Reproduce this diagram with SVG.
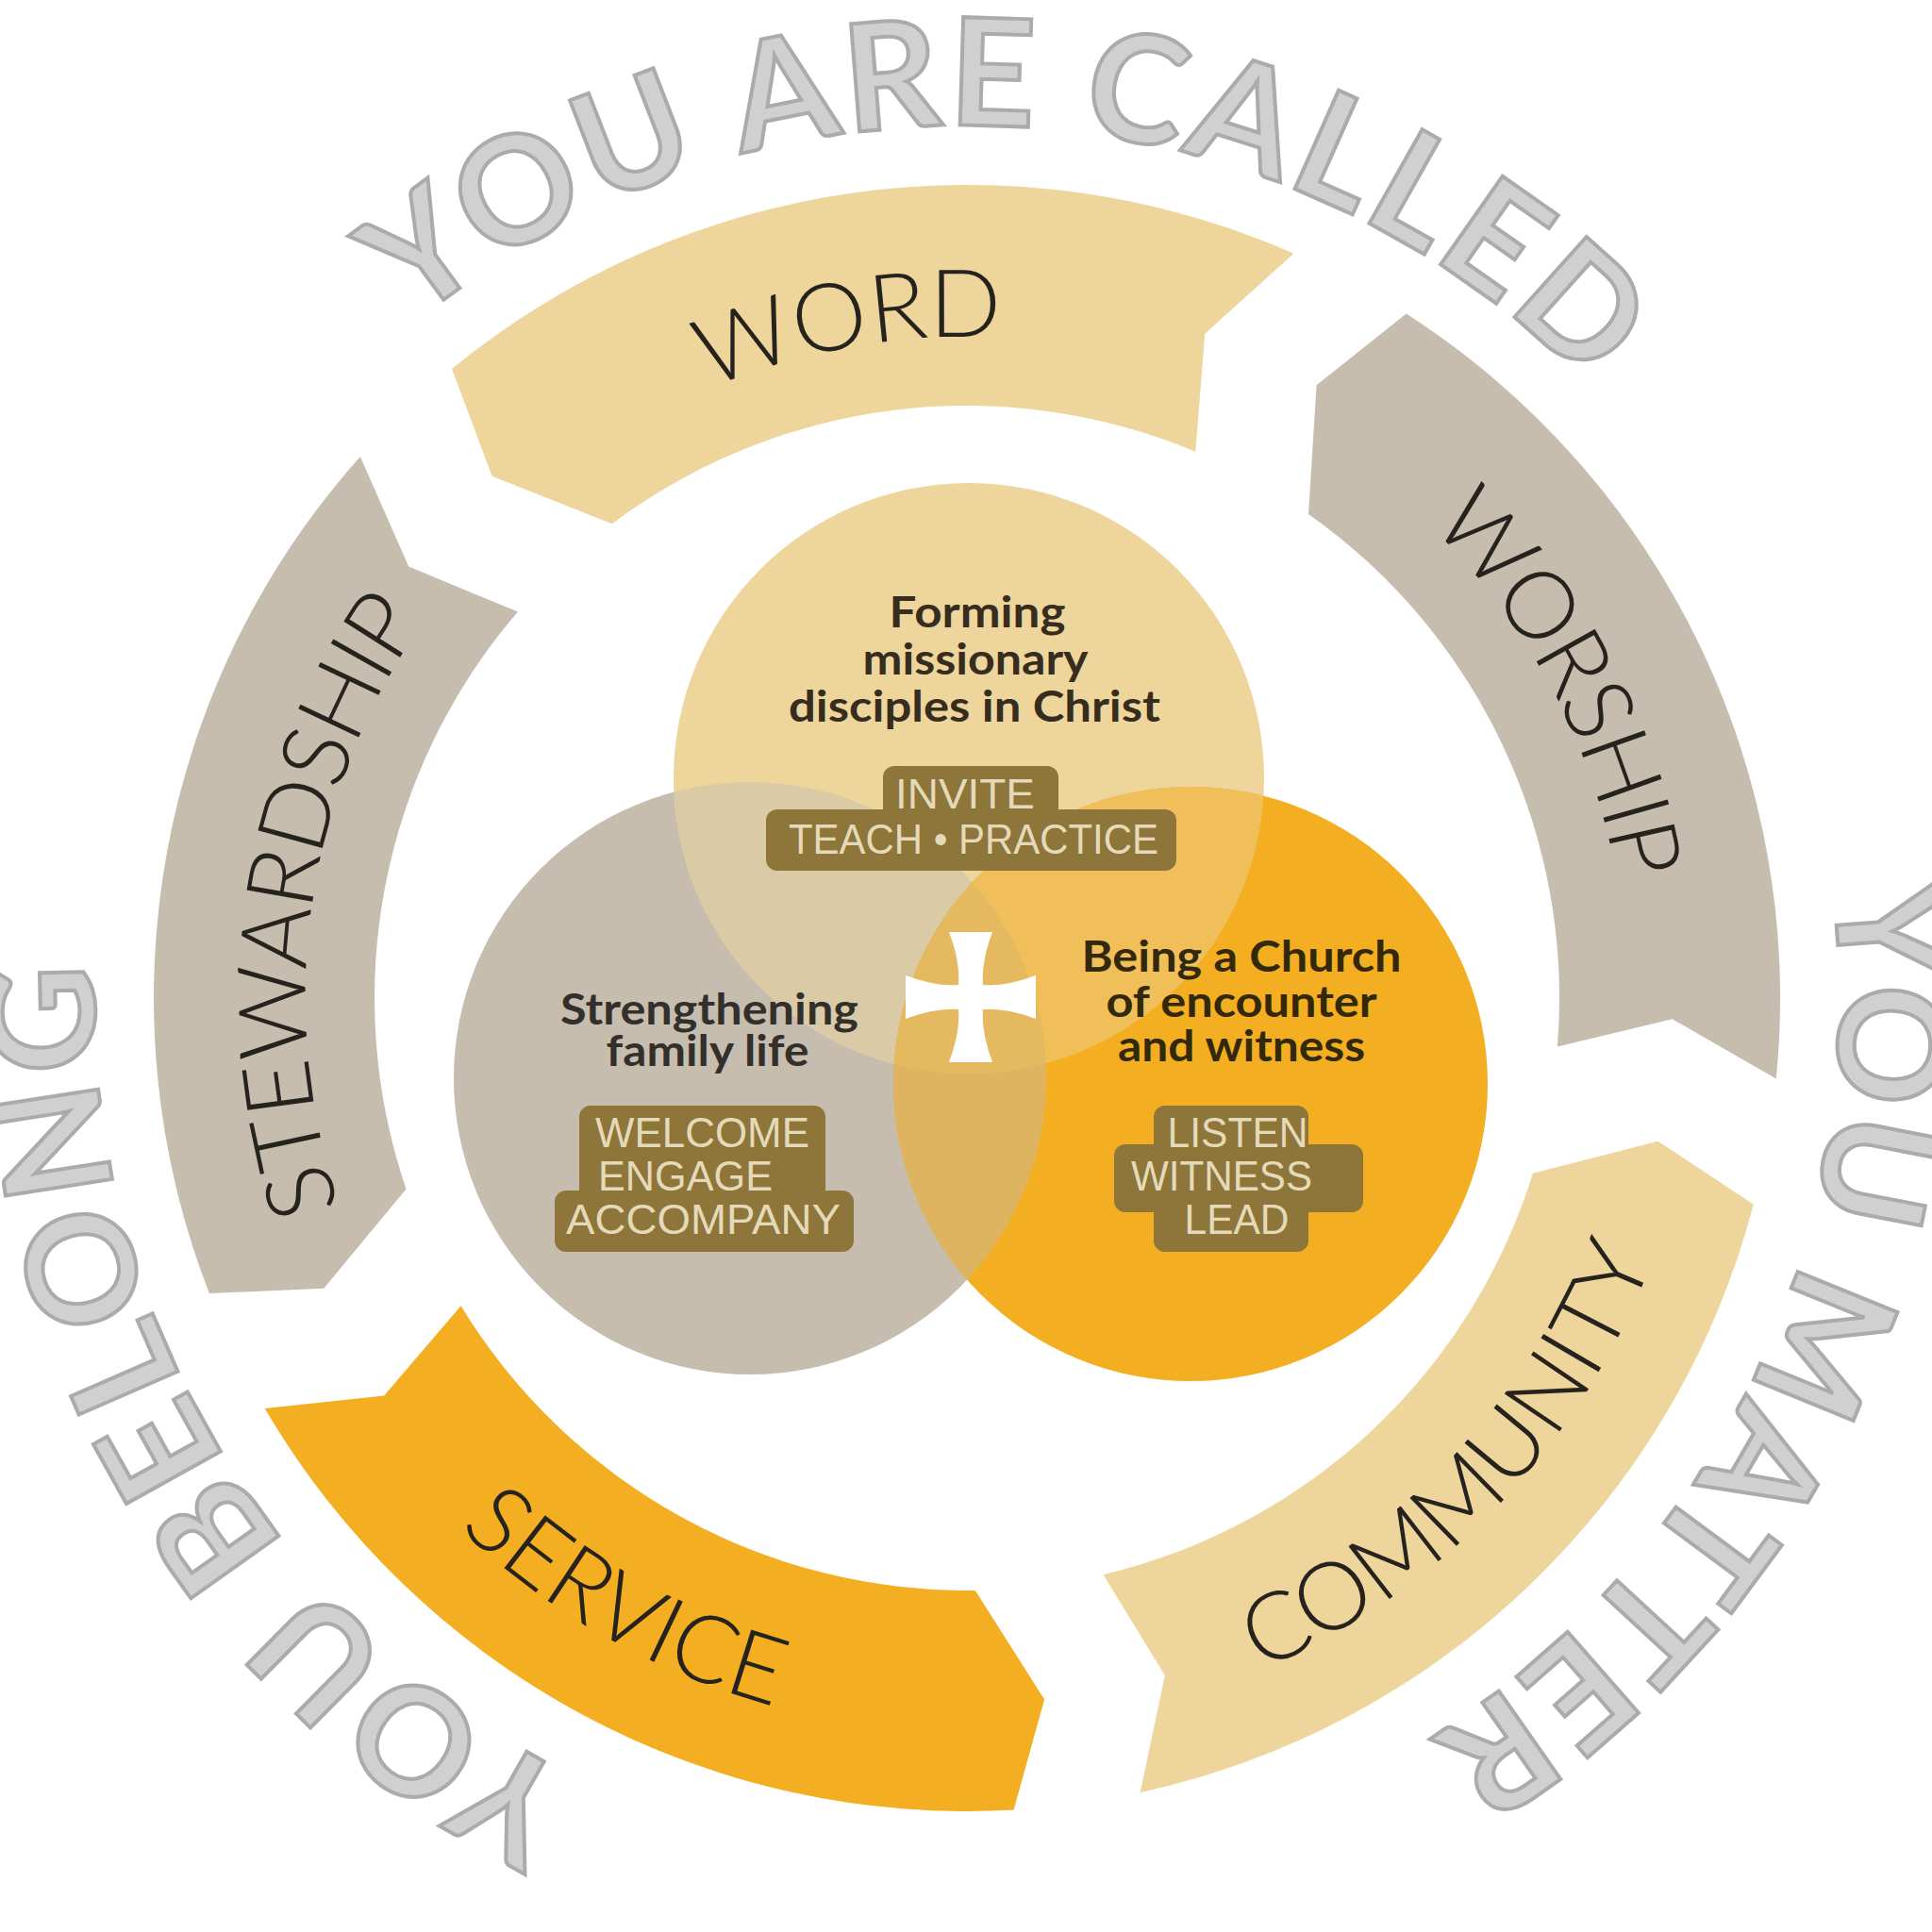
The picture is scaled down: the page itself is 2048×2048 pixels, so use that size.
<svg xmlns="http://www.w3.org/2000/svg" xmlns:xlink="http://www.w3.org/1999/xlink" width="2048" height="2048" viewBox="0 0 2048 2048">
<style>
.band-tan{fill:#EED59C}
.band-gray{fill:#C6BDAF}
.band-orange{fill:#F4AE21}
.band-label{font-family:Lato,"Open Sans","DejaVu Sans",sans-serif;font-weight:300;font-size:100px;fill:#26231E}
.outer{font-family:Lato,"Open Sans","DejaVu Sans",sans-serif;font-weight:700;font-size:158px;letter-spacing:5px;fill:#D0D0D0;stroke:#ABABAB;stroke-width:4}
.ctext{font-family:Lato,"Open Sans","DejaVu Sans",sans-serif;font-weight:700;font-size:45px;text-anchor:middle}
.plaque{fill:#8E7539}
.ptext{font-family:"Liberation Sans","DejaVu Sans",sans-serif;font-size:44px;fill:#E4DABA}
</style>
<defs>
<path id="cw701" d="M1025,1759 A701,701 0 0 1 1025,357 A701,701 0 0 1 1025,1759"/>
<path id="ccw778" d="M1025,280 A778,778 0 0 0 1025,1836 A778,778 0 0 0 1025,280"/>
<path id="cw925" d="M1025,1983 A925,925 0 0 1 1025,133 A925,925 0 0 1 1025,1983"/>
<clipPath id="cTop"><circle cx="1027" cy="825" r="313"/></clipPath>
<clipPath id="cLeft"><circle cx="795" cy="1143" r="314"/></clipPath>
</defs>
<rect width="2048" height="2048" fill="#FFFFFF"/>

<g id="outer-text">
<text class="outer" transform="rotate(3.2 1025 1058)"><textPath xlink:href="#cw925" href="#cw925" startOffset="50%" text-anchor="middle">YOU ARE CALLED</textPath></text>
<text class="outer" transform="rotate(115.5 1025 1058)"><textPath xlink:href="#cw925" href="#cw925" startOffset="50%" text-anchor="middle">YOU MATTER</textPath></text>
<text class="outer" transform="rotate(239.5 1025 1058)"><textPath xlink:href="#cw925" href="#cw925" startOffset="50%" text-anchor="middle">YOU BELONG</textPath></text>
</g>

<g id="node-word">
<path class="band-tan" d="M479.0,391.0 A862,862 0 0 1 1371.4,268.7 L1277.2,353.8 L1267.3,478.7 A628,628 0 0 0 648.8,555.2 L521.6,504.8 Z"/>
<text class="band-label" transform="rotate(-10 1025 1058)"><textPath xlink:href="#cw701" href="#cw701" startOffset="50%" text-anchor="middle">WORD</textPath></text>
</g>
<g id="node-worship">
<path class="band-gray" d="M1490.7,332.6 A862,862 0 0 1 1882.8,1143.6 L1772.7,1080.2 L1650.9,1109.5 A628,628 0 0 0 1387.0,544.9 L1395.6,408.3 Z"/>
<text class="band-label" style="letter-spacing:-3px" transform="rotate(62 1025 1058)"><textPath xlink:href="#cw701" href="#cw701" startOffset="50%" text-anchor="middle">WORSHIP</textPath></text>
</g>
<g id="node-community">
<path class="band-tan" d="M1858.8,1276.7 A862,862 0 0 1 1208.6,1900.2 L1234.9,1775.9 L1169.5,1669.2 A628,628 0 0 0 1624.9,1243.7 L1757.5,1209.7 Z"/>
<text class="band-label" transform="rotate(-46.4 1025 1058)"><textPath xlink:href="#ccw778" href="#ccw778" startOffset="50%" text-anchor="middle">COMMUNITY</textPath></text>
</g>
<g id="node-service">
<path class="band-orange" d="M1074.6,1918.6 A862,862 0 0 1 280.7,1492.9 L407.1,1479.5 L488.6,1384.3 A628,628 0 0 0 1033.8,1685.9 L1107.1,1801.5 Z"/>
<text class="band-label" transform="rotate(29.5 1025 1058)"><textPath xlink:href="#ccw778" href="#ccw778" startOffset="50%" text-anchor="middle">SERVICE</textPath></text>
</g>
<g id="node-stewardship">
<path class="band-gray" d="M221.9,1371.1 A862,862 0 0 1 381.9,484.0 L433.2,600.6 L548.9,648.5 A628,628 0 0 0 430.5,1260.4 L343.3,1365.8 Z"/>
<text class="band-label" style="letter-spacing:-3px" transform="rotate(278.1 1025 1058)"><textPath xlink:href="#cw701" href="#cw701" startOffset="50%" text-anchor="middle">STEWARDSHIP</textPath></text>
</g>

<g id="venn-fills">
<circle cx="795" cy="1143" r="314" fill="#C6BDAF"/>
<circle cx="1027" cy="825" r="313" fill="#EED59C"/>
<circle cx="1027" cy="825" r="313" fill="#DACAA6" clip-path="url(#cLeft)"/>
<circle cx="1262" cy="1149" r="315" fill="#F4AE21"/>
<circle cx="1262" cy="1149" r="315" fill="#F0BF5A" clip-path="url(#cTop)"/>
<circle cx="1262" cy="1149" r="315" fill="#DFB460" clip-path="url(#cLeft)"/>
<g clip-path="url(#cLeft)"><circle cx="1262" cy="1149" r="315" fill="#E4B95F" clip-path="url(#cTop)"/></g>
</g>

<g id="node-forming">
<text class="ctext" fill="#372D1E"><tspan x="1036" y="665" textLength="187" lengthAdjust="spacingAndGlyphs">Forming</tspan><tspan x="1034" y="715" textLength="239" lengthAdjust="spacingAndGlyphs">missionary</tspan><tspan x="1033" y="765" textLength="394" lengthAdjust="spacingAndGlyphs">disciples in Christ</tspan></text>
<rect class="plaque" x="936" y="812" width="186" height="60" rx="12"/>
<rect class="plaque" x="812" y="858" width="435" height="65" rx="12"/>
<text class="ptext" x="1023" y="857" text-anchor="middle" textLength="148" lengthAdjust="spacingAndGlyphs">INVITE</text>
<text class="ptext" x="1032" y="905" text-anchor="middle" textLength="392" lengthAdjust="spacingAndGlyphs">TEACH • PRACTICE</text>
</g>

<g id="node-family">
<text class="ctext" fill="#33302C"><tspan x="752" y="1086" textLength="316" lengthAdjust="spacingAndGlyphs">Strengthening</tspan><tspan x="750" y="1130" textLength="215" lengthAdjust="spacingAndGlyphs">family life</tspan></text>
<rect class="plaque" x="614" y="1172" width="261" height="110" rx="12"/>
<rect class="plaque" x="588" y="1262" width="317" height="65" rx="12"/>
<text class="ptext" x="631" y="1216" textLength="227" lengthAdjust="spacingAndGlyphs">WELCOME</text>
<text class="ptext" x="634" y="1262" textLength="185" lengthAdjust="spacingAndGlyphs">ENGAGE</text>
<text class="ptext" x="600" y="1308" textLength="291" lengthAdjust="spacingAndGlyphs">ACCOMPANY</text>
</g>

<g id="node-church">
<text class="ctext" fill="#32280A"><tspan x="1316" y="1030" textLength="339" lengthAdjust="spacingAndGlyphs">Being a Church</tspan><tspan x="1316" y="1078" textLength="287" lengthAdjust="spacingAndGlyphs">of encounter</tspan><tspan x="1316" y="1125" textLength="262" lengthAdjust="spacingAndGlyphs">and witness</tspan></text>
<rect class="plaque" x="1223" y="1172" width="164" height="155" rx="12"/>
<rect class="plaque" x="1181" y="1213" width="264" height="72" rx="12"/>
<text class="ptext" x="1312" y="1216" text-anchor="middle" textLength="149" lengthAdjust="spacingAndGlyphs">LISTEN</text>
<text class="ptext" x="1295" y="1262" text-anchor="middle" textLength="192" lengthAdjust="spacingAndGlyphs">WITNESS</text>
<text class="ptext" x="1311" y="1308" text-anchor="middle" textLength="111" lengthAdjust="spacingAndGlyphs">LEAD</text>
</g>

<g id="node-cross">
<path fill="#FFFFFF" d="M1006,988 L1052,988 Q1040,1020 1042,1044 Q1066,1046 1098,1034 L1098,1080 Q1066,1068 1042,1070 Q1040,1094 1052,1126 L1006,1126 Q1018,1094 1016,1070 Q992,1068 960,1080 L960,1034 Q992,1046 1016,1044 Q1018,1020 1006,988 Z"/>
</g>
<g id="connectors"/>
</svg>
